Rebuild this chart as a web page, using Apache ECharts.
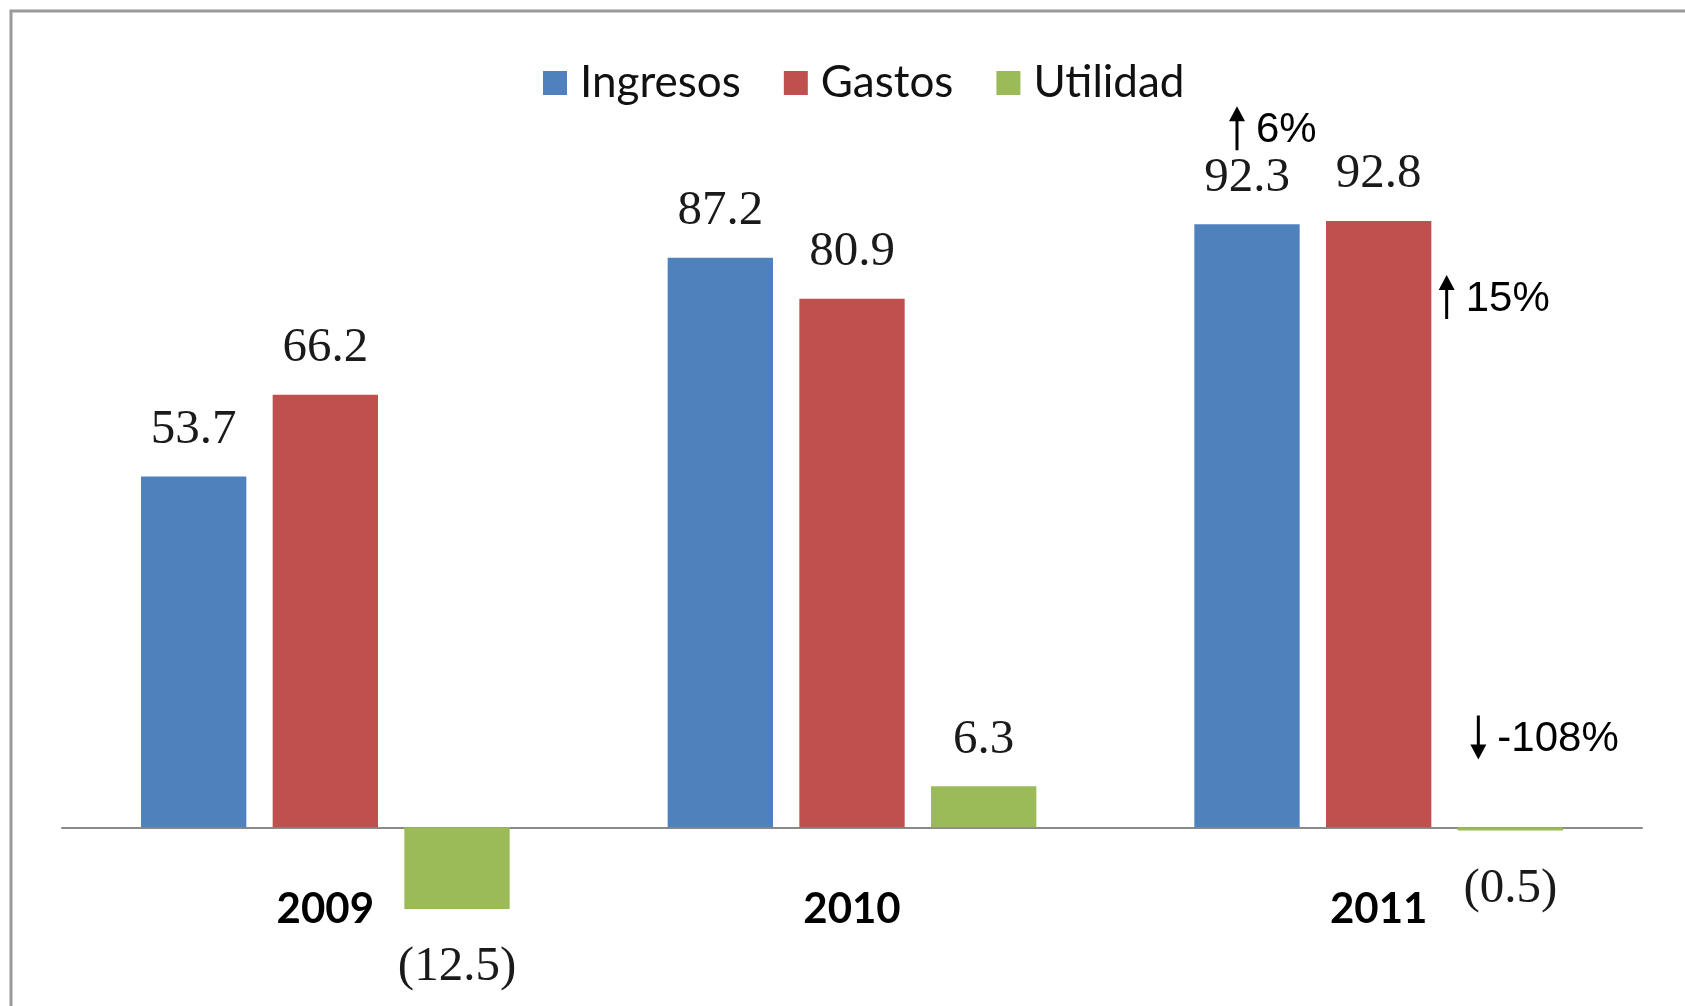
<!DOCTYPE html>
<html>
<head>
<meta charset="utf-8">
<title>Ingresos, Gastos y Utilidad</title>
<script src="https://cdn.jsdelivr.net/npm/echarts@6/dist/echarts.min.js"></script>
<style>
  html, body { margin: 0; padding: 0; background: #fff; }
  #chart { width: 1685px; height: 1006px; }
</style>
</head>
<body>
<div id="chart"></div>
<script>
// datos del grafico
var years = ['2009', '2010', '2011'];
var ingresos = [53.7, 87.2, 92.3];
var gastos = [66.2, 80.9, 92.8];
var utilidad = [-12.5, 6.3, -0.5];

// variaciones 2011 por serie
var noteSeries = [0, 1, 2];
var noteUp = [true, true, false];
var noteText = ['6%', '15%', '-108%'];

var colors = ['#4f81bd', '#c0504d', '#9bbb59'];
var labelFont = '"Liberation Serif", "DejaVu Serif", serif';
var sansFont = '"Liberation Sans", Arial, sans-serif';

// posicion de la flecha respecto a la barra (px)
var noteOffsets = [[-10, -96], [68, 76], [-32, -93]];
var arrowUp = 'path://M8,0 L16,15 L9.5,15 L9.5,44 L6.5,44 L6.5,15 L0,15 Z';
var arrowDown = 'path://M6.5,0 L9.5,0 L9.5,29 L16,29 L8,44 L0,29 L6.5,29 Z';

function fmt(v) {
    return v < 0 ? '(' + Math.abs(v).toFixed(1) + ')' : v.toFixed(1);
}

function barData(values) {
    return values.map(function (v) {
        return {
            value: v,
            label: { position: v < 0 ? 'bottom' : 'top', distance: v < 0 ? 34 : 22 }
        };
    });
}

var names = ['Ingresos', 'Gastos', 'Utilidad'];
var seriesValues = [ingresos, gastos, utilidad];

function markFor(idx) {
    var out = [];
    noteSeries.forEach(function (s, i) {
        if (s !== idx) return;
        out.push({
            coord: [years[2], seriesValues[s][2]],
            symbol: noteUp[i] ? arrowUp : arrowDown,
            symbolOffset: noteOffsets[i],
            label: { formatter: noteText[i] }
        });
    });
    return {
        symbolSize: [16, 44],
        itemStyle: { color: '#000' },
        label: {
            show: true,
            position: 'inside',
            align: 'left',
            verticalAlign: 'middle',
            offset: [19, 2],
            fontFamily: sansFont,
            fontSize: 42,
            color: '#000'
        },
        data: out
    };
}

var myChart = echarts.init(document.getElementById('chart'));

var option = {
    backgroundColor: '#fff',
    animation: false,
    color: colors,
    graphic: [
        {
            type: 'rect',
            silent: true,
            z: -10,
            shape: { x: 11, y: 11, width: 3000, height: 3000 },
            style: { fill: 'none', stroke: '#9a9a9a', lineWidth: 3 }
        },
        {
            type: 'text',
            silent: true,
            left: 1508,
            top: -12,
            style: { text: 'En rumbo 2', fill: '#f7931e', font: 'bold 16px "Liberation Sans", Arial' }
        }
    ],
    legend: {
        data: names,
        left: 538,
        top: 56,
        icon: 'rect',
        itemWidth: 24,
        itemHeight: 24,
        itemGap: 43,
        textStyle: {
            fontFamily: 'Lato, sans-serif',
            fontSize: 44,
            color: '#111',
            padding: [0, 0, 0, 8]
        }
    },
    grid: { left: 62, right: 43, top: 174, bottom: 48, outerBoundsMode: 'none', containLabel: false },
    xAxis: {
        type: 'category',
        data: years,
        axisTick: { show: false },
        axisLine: { onZero: true, lineStyle: { color: '#8a8a8a', width: 2 } },
        axisLabel: {
            // las etiquetas quedan en el borde inferior del grid, no en el cero
            margin: -49,
            verticalAlign: 'middle',
            fontFamily: 'Lato, sans-serif',
            fontWeight: 'bold',
            fontSize: 42,
            color: '#000'
        }
    },
    yAxis: {
        type: 'value',
        min: -20,
        max: 100,
        show: false,
        splitLine: { show: false }
    },
    series: names.map(function (n, i) {
        return {
            name: n,
            type: 'bar',
            barWidth: '20%',
            barGap: '25%',
            data: barData(seriesValues[i]),
            itemStyle: { color: colors[i] },
            label: {
                show: true,
                fontFamily: labelFont,
                fontSize: 49,
                color: '#1a1a1a',
                formatter: function (p) { return fmt(p.value); }
            },
            markPoint: markFor(i)
        };
    })
};

myChart.setOption(option);
</script>
</body>
</html>
